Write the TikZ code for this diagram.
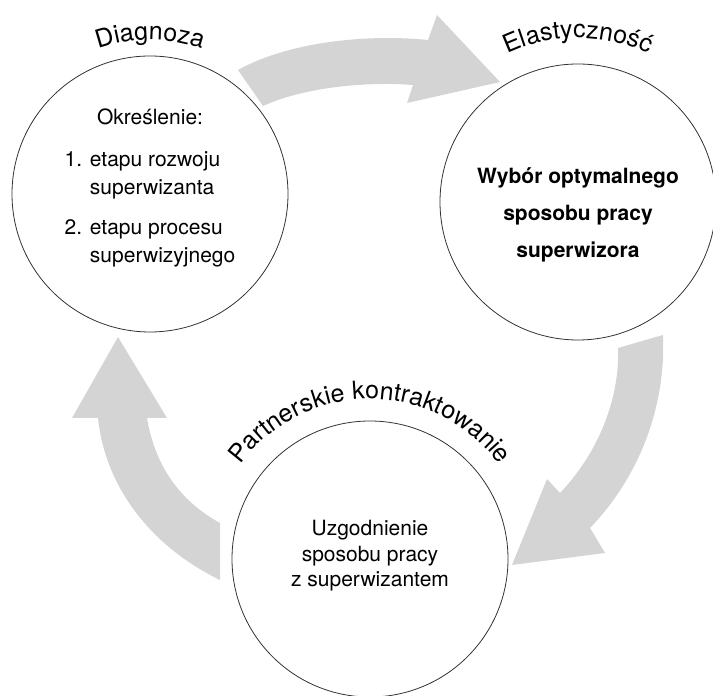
\documentclass[tikz,border=0pt]{standalone}
\usepackage{fontspec}
\setmainfont{TeX Gyre Heros}
\usetikzlibrary{decorations.text}

\begin{document}
\begin{tikzpicture}[x=1pt, y=1pt,
  phase/.style={circle, draw=black!80, line width=.8pt, fill=white, minimum size=276pt, inner sep=0pt},
  inner/.style={align=center, font=\fontsize{21}{28}\selectfont},
  boldinner/.style={align=center, font=\fontsize{21}{37}\selectfont\bfseries},
  flow/.style={fill=black!17, draw=none},
  arclabel/.style={decorate, decoration={text along path, text align=center,
    text={|\fontsize{25}{30}\selectfont|#1}}}]
\useasboundingbox (0,0) rectangle (713,696);
% gray arrows behind the circles
\fill[flow] (238,626) .. controls (290,655) and (370,662) .. (428,656) -- (437,681) -- (500,614)
  -- (407,593) -- (413,611) .. controls (360,615) and (300,607) .. (263,590) -- cycle;
\fill[flow] (663,361) .. controls (666,290) and (640,220) .. (590,168) -- (605,143) -- (512,131)
  -- (547,217) -- (560,203) .. controls (600,245) and (620,300) .. (618,348) -- cycle;
\fill[flow] (220,116) .. controls (150,150) and (105,210) .. (98,278) -- (72,278) -- (118,359)
  -- (167,278) -- (147,278) .. controls (155,230) and (180,195) .. (220,173) -- cycle;
%
\node[phase] (diag) at (150,502) {};
\node[phase] (elast) at (578,494) {};
\node[phase] (kontr) at (370,137) {};
%
\node[inner] (diagtxt) at ([yshift=4]diag.center) {Określenie:\\[14pt]%
  \begin{tabular}[t]{@{}l@{ }l@{}}1.&etapu rozwoju\\&superwizanta\\[12pt]2.&etapu procesu\\&superwizyjnego\end{tabular}};
\node[boldinner] (elasttxt) at ([yshift=-13]elast.center) {Wybór optymalnego\\sposobu pracy\\superwizora};
\node[inner, font=\fontsize{21}{25.5}\selectfont] (kontrtxt) at ([yshift=3]kontr.center) {Uzgodnienie\\sposobu pracy\\z superwizantem};
%
\path[arclabel=Diagnoza] ([shift={(160:154)}]diag.center) arc[start angle=160, end angle=20, radius=154];
\path[arclabel=Elastyczność] ([shift={(160:164)}]elast.center) arc[start angle=160, end angle=20, radius=164];
\path[arclabel=Partnerskie kontraktowanie] ([shift={(170:160)}]kontr.center) arc[start angle=170, end angle=10, radius=160];
\end{tikzpicture}
\end{document}
